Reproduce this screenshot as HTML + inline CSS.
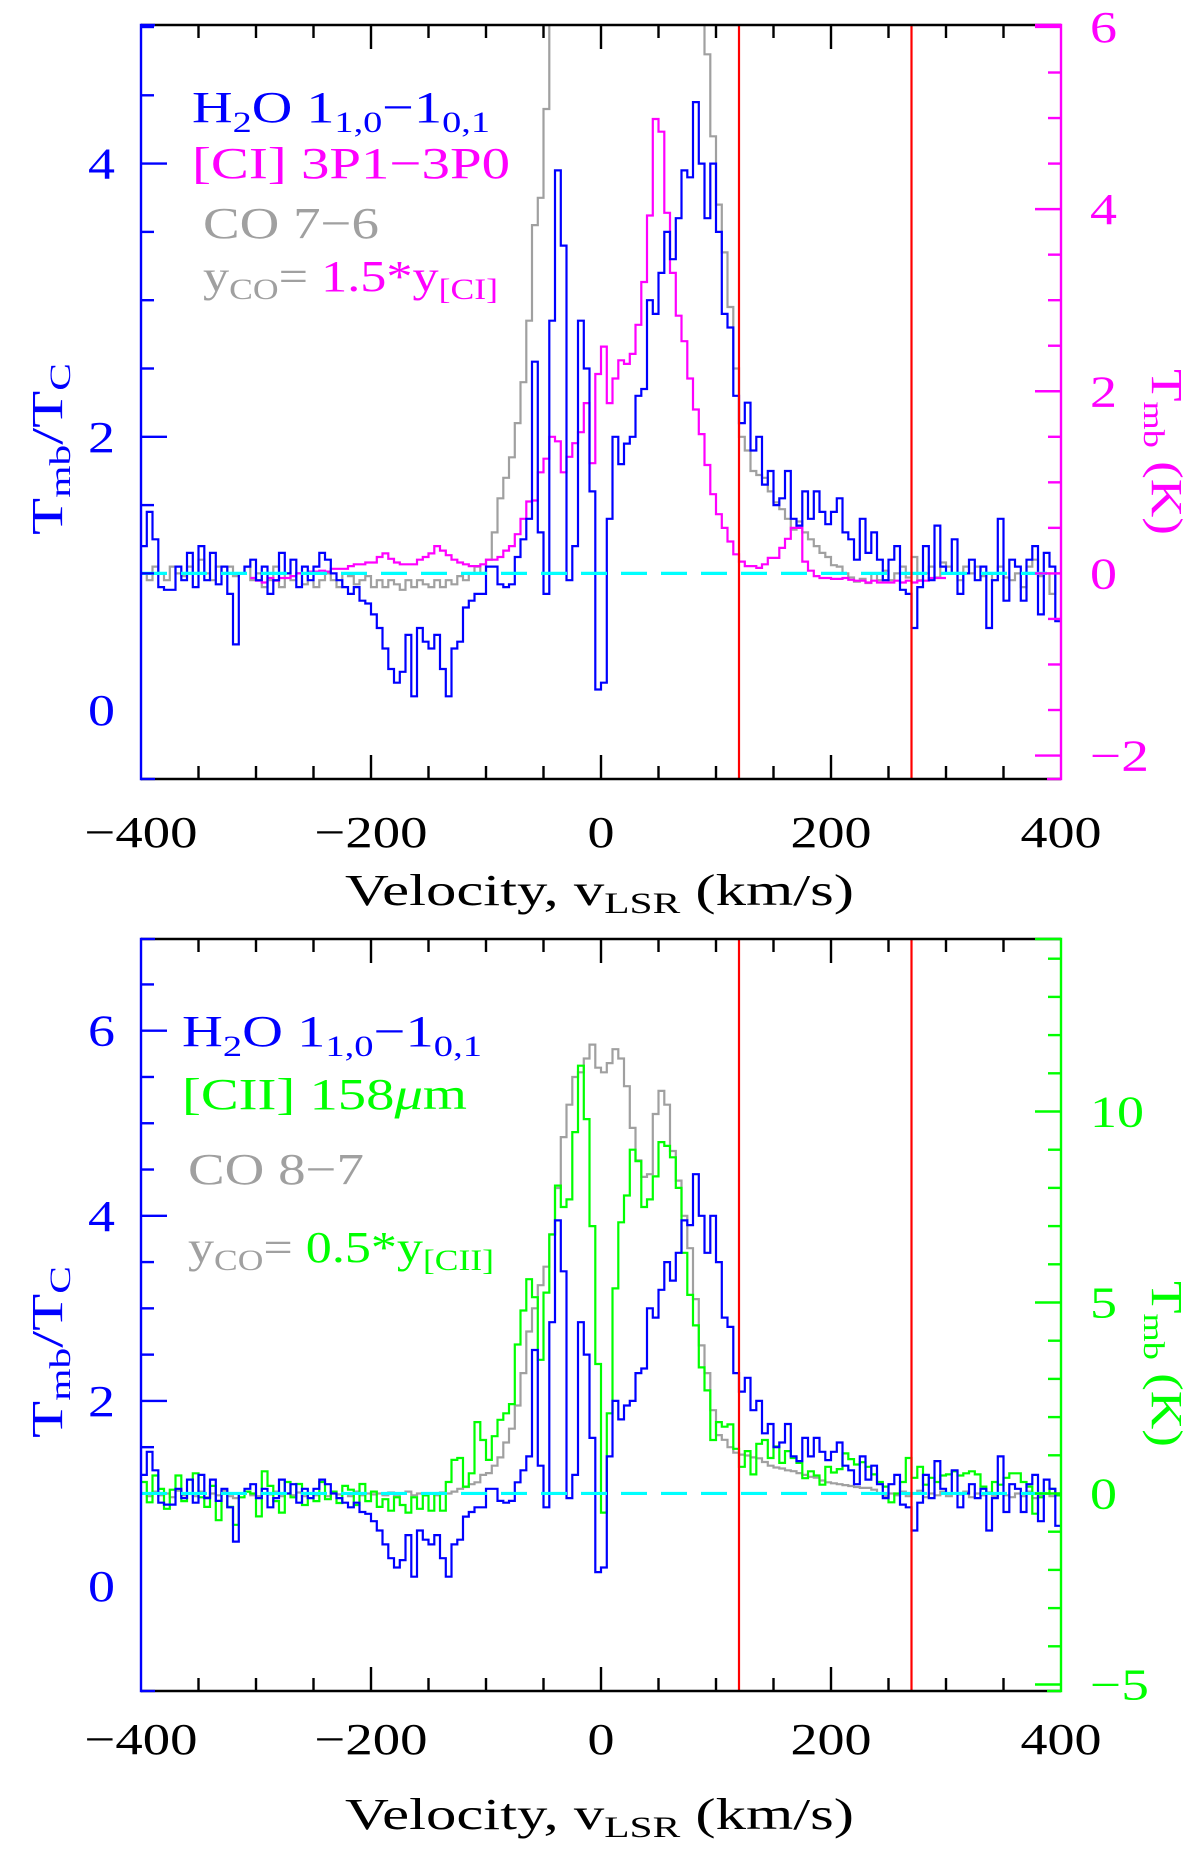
<!DOCTYPE html>
<html><head><meta charset="utf-8"><title>Spectra</title>
<style>html,body{margin:0;padding:0;background:#fff}svg{display:block}text{font-family:"Liberation Serif",serif}</style>
</head><body>
<svg id="fig" xmlns="http://www.w3.org/2000/svg" width="1200" height="1861" viewBox="0 0 1200 1861">
<rect width="1200" height="1861" fill="#fff"/>
<defs>
<clipPath id="c1"><rect x="141" y="25" width="920" height="754"/></clipPath>
<clipPath id="c2"><rect x="141" y="939" width="920" height="752"/></clipPath>
</defs>
<g id="p1"></g>
<g id="p2"></g>

<g font-size="44" xml:space="preserve">
<text x="192" y="122" fill="#0000ff" textLength="298" lengthAdjust="spacingAndGlyphs">H<tspan font-size="30" dy="10">2</tspan><tspan dy="-10">O  1</tspan><tspan font-size="30" dy="10">1,0</tspan><tspan dy="-10">−1</tspan><tspan font-size="30" dy="10">0,1</tspan></text>
<text x="192" y="178" fill="#ff00ff" textLength="318" lengthAdjust="spacingAndGlyphs">[CI] 3P1−3P0</text>
<text x="203" y="238" fill="#a0a0a0" textLength="176" lengthAdjust="spacingAndGlyphs">CO 7−6</text>
<text x="203" y="291" fill="#a0a0a0" textLength="295" lengthAdjust="spacingAndGlyphs">y<tspan font-size="30" dy="8">CO</tspan><tspan dy="-8">=</tspan><tspan fill="#ff00ff"> 1.5*y</tspan><tspan fill="#ff00ff" font-size="30" dy="8">[CI]</tspan></text>

<text x="182" y="1046" fill="#0000ff" textLength="300" lengthAdjust="spacingAndGlyphs">H<tspan font-size="30" dy="10">2</tspan><tspan dy="-10">O  1</tspan><tspan font-size="30" dy="10">1,0</tspan><tspan dy="-10">−1</tspan><tspan font-size="30" dy="10">0,1</tspan></text>
<text x="182" y="1109" fill="#00ff00" textLength="285" lengthAdjust="spacingAndGlyphs">[CII] 158<tspan font-style="italic">μ</tspan>m</text>
<text x="188" y="1184" fill="#a0a0a0" textLength="176" lengthAdjust="spacingAndGlyphs">CO 8−7</text>
<text x="188" y="1262" fill="#a0a0a0" textLength="306" lengthAdjust="spacingAndGlyphs">y<tspan font-size="30" dy="8">CO</tspan><tspan dy="-8">=</tspan><tspan fill="#00ff00"> 0.5*y</tspan><tspan fill="#00ff00" font-size="30" dy="8">[CII]</tspan></text>

<text x="345" y="905" fill="#000" textLength="509" lengthAdjust="spacingAndGlyphs">Velocity, v<tspan font-size="30" dy="8">LSR</tspan><tspan dy="-8"> (km/s)</tspan></text>
<text x="345" y="1829" fill="#000" textLength="509" lengthAdjust="spacingAndGlyphs">Velocity, v<tspan font-size="30" dy="8">LSR</tspan><tspan dy="-8"> (km/s)</tspan></text>

<text transform="translate(62,449) rotate(-90)" text-anchor="middle" fill="#0000ff" textLength="172" lengthAdjust="spacingAndGlyphs">T<tspan font-size="30" dy="8">mb</tspan><tspan dy="-8">/T</tspan><tspan font-size="30" dy="8">C</tspan></text>
<text transform="translate(1152,452) rotate(90)" text-anchor="middle" fill="#ff00ff" textLength="166" lengthAdjust="spacingAndGlyphs">T<tspan font-size="30" dy="8">mb</tspan><tspan dy="-8"> (K)</tspan></text>
<text transform="translate(62,1352) rotate(-90)" text-anchor="middle" fill="#0000ff" textLength="172" lengthAdjust="spacingAndGlyphs">T<tspan font-size="30" dy="8">mb</tspan><tspan dy="-8">/T</tspan><tspan font-size="30" dy="8">C</tspan></text>
<text transform="translate(1152,1364) rotate(90)" text-anchor="middle" fill="#00ff00" textLength="166" lengthAdjust="spacingAndGlyphs">T<tspan font-size="30" dy="8">mb</tspan><tspan dy="-8"> (K)</tspan></text>
</g>
</svg>
<script>
// ---- data (5 km/s channels) ----
const velStart = -400;
const chanWidth = 5;
const ciStart = -305;
const xTicks = [-400, -200, 0, 200, 400];
const xTickLabels = ["−400", "−200", "0", "200", "400"];
const leftTicksTop = [0, 2, 4];
const rightTicksTop = [-2, 0, 2, 4, 6];
const leftTicksBottom = [0, 2, 4, 6];
const rightTicksBottom = [-5, 0, 5, 10];
const markerVels = [120, 270];
const baselineLevel = 1;
const h2o = [
1.2,1.45,1.25,0.9,0.88,0.88,1.05,0.95,1.15,0.9,
1.2,0.95,1.15,0.92,1.05,0.85,0.48,1.0,1.05,1.1,
0.95,1.05,0.85,0.95,1.15,1.0,1.1,0.9,1.05,0.95,
1.05,1.15,1.1,1.0,0.95,0.9,0.85,0.9,0.8,0.78,
0.7,0.6,0.45,0.3,0.2,0.28,0.55,0.1,0.6,0.5,
0.45,0.55,0.3,0.1,0.45,0.5,0.75,0.8,0.85,0.85,
1.05,1.05,0.92,0.9,0.92,1.12,1.25,1.4,2.55,1.3,
0.85,2.85,3.95,3.4,0.95,1.2,2.85,2.5,1.6,0.15,
0.2,1.4,2.0,1.8,1.95,2.0,2.3,2.35,3.0,2.9,
3.2,3.5,3.3,3.6,3.95,3.9,4.45,4.0,3.6,4.0,
3.5,2.9,2.8,2.3,2.1,2.25,1.9,2.0,1.65,1.75,
1.5,1.55,1.75,1.4,1.35,1.6,1.4,1.6,1.45,1.36,
1.45,1.55,1.3,1.25,1.1,1.4,1.15,1.3,1.1,0.95,
1.1,1.2,0.88,0.85,0.6,0.9,1.2,0.95,1.35,1.05,
1.0,1.25,0.85,1.0,1.1,0.95,1.05,0.6,0.95,1.4,
0.8,1.1,1.05,0.8,1.1,1.2,0.7,1.15,1.05,0.65];
const ciK = [
-0.05,-0.08,-0.1,-0.05,-0.08,-0.05,-0.05,-0.03,0,0,
0.02,0.02,0.03,0.02,0.05,0.05,0.05,0.08,0.1,0.1,
0.12,0.12,0.18,0.22,0.16,0.12,0.1,0.1,0.1,0.15,
0.18,0.22,0.3,0.25,0.2,0.15,0.12,0.1,0.08,0.08,
0.1,0.15,0.15,0.18,0.25,0.3,0.43,0.6,0.79,0.8,
1.11,1.26,1.5,1.45,1.11,1.28,1.43,1.55,1.87,1.21,
2.19,2.49,1.87,2.14,2.34,2.3,2.41,2.73,3.2,3.93,
4.99,4.85,3.96,3.3,2.83,2.55,2.14,1.8,1.53,1.19,
0.87,0.65,0.5,0.35,0.21,0.13,0.08,0.08,0.06,0.1,
0.17,0.17,0.28,0.38,0.5,0.5,0.13,0.03,-0.03,-0.05,
-0.05,-0.06,-0.06,-0.05,-0.07,-0.08,-0.08,-0.1,-0.08,-0.1,
-0.1,-0.1,-0.08,-0.1,-0.08,-0.1,-0.08,-0.08,-0.05,-0.05,
-0.05];
const co76 = [
1.0,0.95,1.05,1.0,0.95,1.05,1.0,0.98,1.05,1.0,
1.1,1.0,0.95,1.05,1.0,1.05,0.98,1.0,1.05,0.95,
1.0,0.9,0.95,1.05,0.9,1.0,0.95,1.0,0.92,1.0,
0.9,0.95,1.0,0.95,0.9,1.0,0.98,0.92,0.95,0.98,
0.9,0.95,0.9,0.95,0.92,0.88,0.95,0.9,0.95,0.92,
0.9,0.95,0.9,0.95,0.92,0.98,0.95,1.0,1.05,1.0,
1.1,1.3,1.55,1.7,1.85,2.1,2.4,2.85,3.55,3.75,4.4,5.5,
6,6,6,6,6,6,6,6,6,6,6,6,6,6,6,6,6,6,6,6,6,6,6,6,6,6,
4.8,4.2,3.7,3.35,2.95,2.5,2.0,1.9,1.75,1.72,
1.7,1.6,1.52,1.47,1.4,1.32,1.38,1.3,1.25,1.2,
1.15,1.12,1.06,1.05,1.0,0.97,0.94,0.96,0.93,1.0,
0.95,1.02,0.95,1.0,1.05,0.97,1.12,0.95,1.0,1.05,
0.97,1.08,1.05,1.0,0.95,1.05,1.0,1.05,0.98,1.0,
0.95,1.05,0.97,0.95,1.0,0.9,1.05,1.1,0.98,1.0,0.85,1.0];
const co87 = [
1.0,0.97,1.02,0.98,1.0,0.96,1.03,0.98,1.0,0.97,
1.02,0.96,1.0,0.98,1.03,0.97,0.95,1.0,1.02,0.98,
0.97,1.0,0.99,1.02,0.97,1.0,0.98,1.01,0.97,1.0,
0.98,1.0,0.97,1.01,0.99,1.0,0.97,1.02,0.98,1.0,
0.99,1.0,0.98,1.01,0.97,1.0,1.02,0.98,1.0,0.99,
1.0,0.98,1.01,1.0,1.02,1.05,1.07,1.1,1.12,1.2,
1.22,1.3,1.39,1.55,1.7,1.95,2.3,2.75,3.0,3.25,
3.45,3.8,4.3,4.85,5.2,5.5,5.55,5.7,5.85,5.6,
5.55,5.65,5.8,5.7,5.4,4.95,4.6,4.42,4.45,5.1,
5.35,5.2,4.7,4.38,4.0,3.65,3.1,2.6,2.3,1.9,
1.63,1.58,1.5,1.44,1.42,1.41,1.39,1.38,1.34,1.3,
1.28,1.27,1.25,1.24,1.22,1.2,1.18,1.17,1.14,1.12,
1.11,1.1,1.09,1.08,1.07,1.06,1.06,1.04,1.0,0.97,
1.0,0.98,1.02,0.97,1.0,1.03,0.96,1.0,0.98,1.02,
0.97,1.0,0.99,1.02,0.96,1.0,0.98,1.01,0.97,1.0,
0.98,0.96,1.0,0.97,1.02,0.95,0.98,1.0,0.97,1.0];
const ciiK = [
0.3,-0.23,0.47,0.12,-0.4,0.1,0.47,-0.2,0.0,0.53,
-0.1,-0.35,0.2,-0.7,0.0,-0.35,-0.82,-0.1,0.05,0.0,
-0.6,0.58,0.2,-0.2,-0.5,0.3,-0.1,0.25,-0.3,0.0,
-0.2,0.3,-0.15,0.05,-0.25,0.2,0.1,-0.3,0.25,-0.2,
0.05,-0.35,-0.15,-0.45,-0.1,-0.3,-0.5,-0.1,-0.4,-0.05,
-0.45,0.0,-0.45,0.3,0.88,0.93,0.18,0.53,1.87,1.4,
0.88,1.5,1.93,2.1,2.34,3.9,4.79,5.61,5.14,3.5,
5.26,6.78,8.06,7.5,7.7,9.46,11.2,9.8,7.0,3.39,
-0.5,2.1,5.37,7.1,7.8,9.0,8.7,7.5,7.7,8.3,
9.2,9.1,8.8,8.0,6.3,5.2,4.4,3.3,2.7,1.4,
1.87,1.75,1.81,1.17,0.7,1.11,0.5,1.3,1.4,0.93,
1.23,0.8,1.11,0.93,0.8,0.4,0.58,0.47,0.23,0.7,
0.55,0.64,1.05,0.9,0.76,0.82,0.7,0.5,0.3,0.18,
-0.23,0.0,0.3,0.93,0.41,0.7,0.23,0.41,0.3,0.47,
0.5,0.58,0.47,0.53,0.58,0.5,0.18,0.0,0.3,0.23,
0.41,0.53,0.53,0.3,0.18,-0.53,-0.1,0.0,0.12,-0.05];

// ---- scales ----
const NS = "http://www.w3.org/2000/svg";
const X0 = 141, X1 = 1061;
function xv(v){ return X0 + (v + 400) * (X1 - X0) / 800; }
const P1 = {top:25, bot:779, yL:u => 710 - u*136.6, yR:k => 573.4 - k*91.07, clip:"c1"};
const P2 = {top:939, bot:1691, yL:u => 1586 - u*92.55, yR:k => 1493.5 - k*38.2, clip:"c2"};

function mk(tag, attrs, parent){
  const e = document.createElementNS(NS, tag);
  for (const k in attrs) e.setAttribute(k, attrs[k]);
  parent.appendChild(e);
  return e;
}
function stepPath(vals, start, yf){
  let d = "";
  for (let i = 0; i < vals.length; i++){
    const xa = xv(start + i*chanWidth), xb = xv(start + (i+1)*chanWidth), y = yf(vals[i]).toFixed(1);
    d += (i === 0 ? "M" + xa.toFixed(1) + " " + y : "V" + y + "H" + xa.toFixed(1)) + "H" + xb.toFixed(1);
  }
  return d;
}
function series(g, vals, start, yf, color, name, clip){
  const p = mk("path", {d: stepPath(vals, start, yf), fill:"none", stroke:color, "stroke-width":"2.2", "clip-path":"url(#"+clip+")"}, g);
  
  
}
function line(g, x1, y1, x2, y2, color, w, name){
  const l = mk("line", {x1:x1, y1:y1, x2:x2, y2:y2, stroke:color, "stroke-width":w}, g);
  
  
  return l;
}
function label(g, x, y, txt, color, anchor, name){
  const t = mk("text", {x:x, y:y, fill:color, "font-size":"44", "text-anchor":anchor}, g);
  t.textContent = txt;
  const digits = txt.replace("−","").length;
  t.setAttribute("textLength", digits*27 + (txt.indexOf("−")>=0 ? 32 : 0));
  t.setAttribute("lengthAdjust", "spacingAndGlyphs");
  
  
}

function axes(g, P, rColor, lTicks, rTicks, lMinor, rMinor, rMajorEvery, tickLabY){
  // frame
  line(g, X0, P.top, X1, P.top, "#000", 2.4, "top-axis");
  line(g, X0, P.bot, X1, P.bot, "#000", 2.4, "x-axis");
  line(g, X0, P.top-1.2, X0, P.bot+1.2, "#0000ff", 2.4, "left-y-axis");
  line(g, X1, P.top-1.2, X1, P.bot+1.2, rColor, 2.4, "right-y-axis");
  // x ticks every 50
  for (let v = -350; v <= 350; v += 50){
    const len = (v % 200 === 0) ? 24 : 13;
    line(g, xv(v), P.bot, xv(v), P.bot - len, "#000", 2.4, "x-tick");
    line(g, xv(v), P.top, xv(v), P.top + len, "#000", 2.4, "x-tick-top");
  }
  xTicks.forEach((v, i) => label(g, xv(v), tickLabY, xTickLabels[i], "#000", "middle", "x-tick-label"));
  // left ticks
  const uMin = (P.yL(0) - P.bot) / (P.yL(0) - P.yL(1)) * -1, uMax = (P.yL(0) - P.top) / (P.yL(0) - P.yL(1));
  for (let u = Math.ceil(uMin/lMinor)*lMinor; u <= uMax + 1e-6; u += lMinor){
    const y = P.yL(u); if (y < P.top + 2 || y > P.bot - 2) continue;
    const major = Math.abs(u/2 - Math.round(u/2)) < 1e-6;
    line(g, X0, y, X0 + (major ? 26 : 13), y, "#0000ff", 2.4, "left-y-tick");
  }
  lTicks.forEach(u => label(g, 115, P.yL(u) + 15, String(u), "#0000ff", "end", "left-y-tick-label"));
  // right ticks
  const kMin = -(P.bot - P.yR(0)) / (P.yR(0) - P.yR(1)), kMax = (P.yR(0) - P.top) / (P.yR(0) - P.yR(1));
  for (let k = Math.ceil(kMin/rMinor)*rMinor; k <= kMax + 1e-6; k += rMinor){
    const y = P.yR(k); if (y < P.top - 2 || y > P.bot + 2) continue;
    const major = Math.abs(k/rMajorEvery - Math.round(k/rMajorEvery)) < 1e-6;
    line(g, X1, y, X1 - (major ? 26 : 13), y, rColor, 2.4, "right-y-tick");
  }
  rTicks.forEach(k => label(g, 1090, P.yR(k) + 15, (k < 0 ? "−" : "") + Math.abs(k), rColor, "start", "right-y-tick-label"));
  // colored corner stubs
  line(g, X0, P.top, X0 + 14, P.top, "#0000ff", 2.4, "corner-stub");
  line(g, X0, P.bot, X0 + 14, P.bot, "#0000ff", 2.4, "corner-stub");
  line(g, X1 - 26, P.top, X1, P.top, rColor, 2.4, "corner-stub");
  line(g, X1 - 14, P.bot, X1, P.bot, rColor, 2.4, "corner-stub");
}

function overlays(g, P){
  const c = line(g, X0, P.yL(baselineLevel), X1, P.yL(baselineLevel), "#00ffff", 3.2, "baseline-dashed");
  c.setAttribute("stroke-dasharray", "26 14");
  markerVels.forEach(v => line(g, xv(v), P.top, xv(v), P.bot, "#ff0000", 2.2, "velocity-marker-line"));
}

// top panel
const g1 = document.getElementById("p1");
series(g1, co76, velStart, P1.yL, "#a0a0a0", "co-7-6-spectrum", P1.clip);
series(g1, ciK, ciStart, P1.yR, "#ff00ff", "ci-spectrum", P1.clip);
series(g1, h2o, velStart, P1.yL, "#0000ff", "h2o-spectrum-top", P1.clip);
overlays(g1, P1);
axes(g1, P1, "#ff00ff", leftTicksTop, rightTicksTop, 0.5, 0.5, 2, 847);

// bottom panel
const g2 = document.getElementById("p2");
series(g2, co87, velStart, P2.yL, "#a0a0a0", "co-8-7-spectrum", P2.clip);
series(g2, ciiK, velStart, P2.yR, "#00ff00", "cii-spectrum", P2.clip);
series(g2, h2o, velStart, P2.yL, "#0000ff", "h2o-spectrum-bottom", P2.clip);
overlays(g2, P2);
axes(g2, P2, "#00ff00", leftTicksBottom, rightTicksBottom, 0.5, 1, 5, 1754);
</script>
</body></html>
